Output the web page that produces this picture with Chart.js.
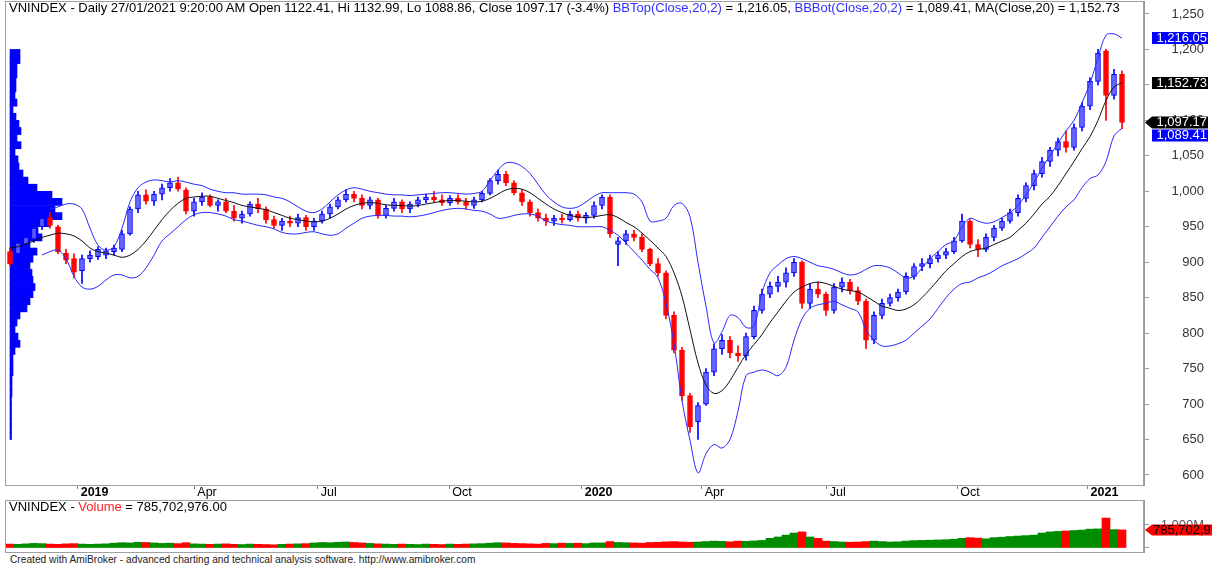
<!DOCTYPE html>
<html>
<head>
<meta charset="utf-8">
<title>VNINDEX - Daily</title>
<script src="https://cdn.jsdelivr.net/npm/chart.js@4.4.1/dist/chart.umd.min.js"></script>
<style>
  html, body { margin: 0; padding: 0; background: #fff; }
  #wrap { position: relative; width: 1212px; height: 567px; overflow: hidden;
          font-family: "Liberation Sans", Arial, sans-serif; }
  canvas { position: absolute; left: 0; }
  #priceChart { top: 0; }
  #volChart   { top: 500px; }
  .txt  { position: absolute; white-space: nowrap; color: #000; }
  #hdr  { left: 9px;  top: 1px;   font-size: 13px; line-height: 13px; }
  #vhdr { left: 9px;  top: 500px; font-size: 13px; line-height: 13px; }
  #foot { left: 10px; top: 554px; font-size: 10.2px; line-height: 11px; color: #222; }
  .blue { color: #3030ff; }
  .red  { color: #ff2020; }
</style>
</head>
<body>
<div id="wrap">
  <canvas id="priceChart" width="1212" height="500"></canvas>
  <canvas id="volChart" width="1212" height="53"></canvas>
  <div class="txt" id="hdr">VNINDEX - Daily 27/01/2021 9:20:00 AM Open 1122.41, Hi 1132.99, Lo 1088.86, Close 1097.17 (-3.4%) <span class="blue">BBTop(Close,20,2)</span> = 1,216.05, <span class="blue">BBBot(Close,20,2)</span> = 1,089.41, MA(Close,20) = 1,152.73</div>
  <div class="txt" id="vhdr">VNINDEX - <span class="red">Volume</span> = 785,702,976.00</div>
  <div class="txt" id="foot">Created with AmiBroker - advanced charting and technical analysis software. http://www.amibroker.com</div>
</div>

<script>
// ─────────────────────────────────────────
//  DATA  (one bar ≈ 4 trading days, Nov 2018 → 27 Jan 2021)
// ─────────────────────────────────────────
const opens = [
  915, 912, 925, 933, 950, 963, 950, 913, 905, 888,
  905, 908, 910, 915, 918, 940, 975, 995, 986, 996,
  1005, 1012, 1002, 972, 985, 992, 980, 985, 972, 962,
  968, 982, 975, 960, 952, 958, 955, 963, 950, 958,
  968, 978, 988, 996, 990, 980, 988, 966, 976, 985,
  975, 982, 988, 992, 988, 984, 990, 985, 980, 988,
  997, 1015, 1024, 1012, 998, 985, 970, 962, 958, 962,
  960, 968, 962, 966, 980, 992, 925, 930, 940, 935,
  918, 898, 885, 825, 776, 712, 675, 700, 745, 778,
  790, 772, 768, 795, 832, 855, 866, 872, 885, 900,
  842, 862, 855, 832, 865, 872, 860, 845, 790, 825,
  842, 850, 858, 880, 894, 898, 905, 910, 915, 930,
  958, 925, 918, 935, 948, 958, 970, 990, 1008, 1025,
  1042, 1058, 1070, 1062, 1090, 1120, 1155, 1198, 1135, 1165,
];
const highs = [
  920, 930, 940, 952, 966, 970, 952, 918, 912, 910,
  916, 922, 920, 924, 945, 978, 1000, 1002, 1000, 1010,
  1018, 1020, 1005, 990, 998, 995, 988, 990, 980, 972,
  985, 990, 978, 965, 962, 965, 968, 966, 962, 972,
  982, 992, 1002, 1000, 995, 992, 990, 980, 990, 988,
  985, 992, 996, 1000, 995, 994, 995, 990, 992, 1000,
  1018, 1030, 1028, 1015, 1002, 988, 975, 968, 966, 968,
  972, 972, 970, 985, 995, 995, 935, 945, 945, 940,
  920, 905, 888, 830, 780, 715, 702, 750, 785, 798,
  795, 782, 800, 838, 862, 872, 880, 892, 905, 902,
  870, 872, 858, 870, 878, 876, 865, 848, 830, 848,
  855, 862, 885, 898, 905, 910, 915, 920, 935, 968,
  960, 932, 940, 952, 962, 975, 995, 1012, 1030, 1048,
  1062, 1075, 1085, 1095, 1125, 1160, 1200, 1200, 1172, 1170,
];
const lows = [
  895, 905, 920, 928, 946, 948, 912, 898, 878, 870,
  900, 904, 905, 910, 915, 938, 970, 982, 980, 988,
  1000, 1000, 968, 965, 980, 978, 972, 970, 958, 955,
  965, 970, 955, 948, 945, 950, 950, 945, 945, 955,
  962, 975, 985, 985, 975, 975, 962, 962, 972, 970,
  970, 978, 984, 985, 980, 980, 982, 975, 976, 985,
  995, 1010, 1008, 995, 980, 965, 958, 952, 952, 955,
  958, 958, 955, 962, 975, 935, 895, 925, 930, 915,
  895, 880, 820, 772, 705, 660, 650, 698, 740, 770,
  765, 760, 762, 792, 828, 850, 858, 865, 880, 835,
  835, 850, 825, 828, 858, 855, 840, 778, 785, 820,
  838, 845, 855, 876, 888, 892, 900, 905, 912, 928,
  920, 908, 915, 930, 945, 955, 965, 985, 1002, 1020,
  1035, 1050, 1055, 1058, 1085, 1115, 1150, 1100, 1130, 1088,
];
const closes = [
  898, 927, 935, 948, 962, 952, 915, 903, 886, 905,
  910, 918, 916, 920, 940, 975, 995, 986, 996, 1005,
  1012, 1003, 972, 985, 992, 980, 985, 972, 962, 968,
  982, 975, 960, 952, 958, 955, 963, 950, 958, 968,
  978, 988, 996, 990, 980, 988, 966, 976, 985, 975,
  982, 988, 992, 988, 984, 990, 985, 980, 988, 997,
  1015, 1024, 1012, 998, 985, 970, 962, 958, 962, 960,
  968, 962, 966, 980, 992, 940, 930, 940, 935, 918,
  898, 885, 825, 776, 712, 668, 698, 745, 778, 790,
  772, 768, 795, 832, 855, 866, 872, 885, 900, 842,
  862, 855, 832, 865, 872, 860, 845, 790, 825, 842,
  850, 858, 880, 894, 898, 905, 910, 915, 930, 958,
  925, 918, 935, 948, 958, 970, 990, 1008, 1025, 1042,
  1058, 1070, 1062, 1090, 1120, 1155, 1195, 1135, 1165, 1097,
];

// indicator lines at every bar
const maLine = [
  920, 922, 926, 930, 935, 938, 941, 940, 937, 930,
  920, 915, 913, 910, 907, 910, 918, 930, 945, 960,
  973, 983, 990, 992, 993, 993, 990, 987, 984, 980,
  978, 976, 974, 970, 966, 962, 960, 958, 957, 958,
  962, 968, 975, 980, 983, 984, 983, 981, 980, 980,
  979, 980, 982, 984, 986, 987, 987, 986, 985, 986,
  990, 996, 1002, 1004, 1003, 998, 990, 982, 975, 970,
  966, 964, 963, 964, 966, 967, 963, 956, 950, 941,
  931, 920, 908, 885, 852, 805, 758, 727, 715, 719,
  733, 752, 770, 784, 798, 815, 830, 845, 858, 865,
  870, 872, 870, 866, 862, 860, 858, 852, 845, 838,
  835, 832, 834, 840, 850, 862, 875, 888, 898, 908,
  915, 918, 920, 925, 930, 935, 945, 955, 968, 982,
  993, 1008, 1025, 1042, 1060, 1077, 1100, 1128, 1147, 1153,
];
const bbTop = [
  null, null, null, null, null, 975, 978, 982, 982, 975,
  948, 924, 917, 922, 948, 985, 1005, 1013, 1016, 1015,
  1013, 1015, 1013, 1010, 1008, 1003, 1000, 998, 998, 996,
  996, 996, 995, 992, 990, 985, 978, 972, 970, 975,
  985, 995, 1002, 1005, 1003, 1000, 998, 996, 995, 995,
  994, 995, 996, 997, 998, 998, 997, 996, 997, 1000,
  1015, 1030, 1040, 1040, 1035, 1025, 1010, 995, 985, 978,
  976, 978, 985, 993, 998, 998, 998, 998, 996, 985,
  958, 958, 962, 980, 983, 964, 900, 838, 786, 802,
  825, 822, 808, 810, 857, 885, 896, 905, 908, 905,
  900, 895, 893, 890, 885, 882, 884, 890, 895, 895,
  892, 885, 878, 880, 892, 905, 915, 925, 930, 950,
  962, 958, 955, 957, 963, 970, 980, 995, 1012, 1033,
  1050, 1068, 1085, 1100, 1125, 1152, 1188, 1220, 1222, 1216,
];
const bbBot = [
  null, null, null, null, 910, 915, 917, 905, 880, 865,
  862, 866, 875, 882, 882, 878, 880, 892, 910, 930,
  940, 950, 960, 967, 970, 970, 968, 965, 960, 958,
  955, 952, 950, 947, 942, 940, 940, 942, 943, 940,
  938, 940, 948, 955, 962, 965, 966, 966, 965, 965,
  964, 965, 967, 970, 973, 975, 976, 975, 973, 972,
  968, 962, 963, 966, 968, 968, 965, 958, 955, 953,
  952, 950, 950, 950, 950, 945, 938, 927, 915, 903,
  890, 878, 842, 785, 705, 649, 603, 630, 643, 638,
  650, 690, 740, 745, 748, 745, 740, 752, 790, 820,
  835, 840, 842, 845, 840, 835, 830, 805, 790, 782,
  782, 785, 790, 800, 810, 820, 835, 850, 862, 870,
  872, 878, 882, 888, 895, 900, 905, 912, 920, 935,
  950, 965, 978, 988, 1005, 1018, 1023, 1042, 1078, 1089,
];

// volume, millions of shares
const volumes = [
  170, 160, 180, 200, 190, 170, 160, 180, 190, 170,
  160, 170, 180, 210, 230, 220, 250, 240, 220, 200,
  210, 190, 230, 180, 170, 160, 170, 180, 160, 150,
  170, 160, 150, 140, 160, 170, 180, 190, 220, 240,
  230, 250, 260, 240, 220, 200, 180, 170, 160, 170,
  160, 150, 170, 160, 150, 170, 160, 170, 180, 190,
  210, 230, 220, 200, 190, 180, 170, 200, 190, 210,
  200, 210, 190, 220, 220, 280, 240, 230, 220, 210,
  240, 250, 270, 280, 260, 250, 260, 280, 300, 290,
  270, 300, 290, 310, 330, 420, 480, 560, 650, 700,
  480, 420, 300, 280, 260, 250, 260, 280, 300, 280,
  260, 270, 300, 320, 330, 340, 350, 360, 380, 420,
  450, 430, 400, 450, 470, 500, 520, 540, 560, 650,
  700, 720, 740, 760, 780, 820, 830, 1300, 800, 786,
];

// volume-at-price profile (left side): price bins and bar lengths
const profilePrices = [
  655, 665, 675, 685, 695, 705, 715, 725, 735, 745, 755,
  765, 775, 785, 795, 805, 815, 825, 835, 845, 855,
  865, 875, 885, 895, 905, 915, 925, 935, 945, 955,
  965, 975, 985, 995, 1005, 1015, 1025, 1035, 1045, 1055,
  1065, 1075, 1085, 1095, 1105, 1115, 1125, 1135, 1145, 1155,
  1165, 1175, 1185, 1195,
];
const profileWidths = [
  1.5, 1.5, 1.5, 1.5, 1.5, 1.5, 2, 2, 2, 3, 3,
  3, 5, 10, 8, 5, 7, 10, 17, 20, 23,
  25, 23, 22, 20, 23, 27, 20, 32, 28, 40,
  52, 45, 52, 42, 27, 18, 13, 9, 8, 5,
  11, 7, 11, 9, 6, 3, 7, 5, 6, 6,
  7, 7, 10, 10,
];

// axes
const xTickPos    = [8.46, 23.04, 38.46, 54.9, 71.46, 86.46, 102.1, 118.4, 134.7];
const xTickLabels = ['2019', 'Apr', 'Jul', 'Oct', '2020', 'Apr', 'Jul', 'Oct', '2021'];
const priceTicks  = [600, 650, 700, 750, 800, 850, 900, 950, 1000, 1050, 1100, 1150, 1200, 1250];
const volTicks    = [0, 1000];

// last values shown in the right margin
const lastLabels = [
  { value: 1216.05, text: '1,216.05', bg: '#0000ff' },
  { value: 1152.73, text: '1,152.73', bg: '#000000' },
  { value: 1097.17, text: '1,097.17', bg: '#000000', arrow: true },
  { value: 1089.41, text: '1,089.41', bg: '#0000ff' },
];
const lastVolume = 785.702976;

// ─────────────────────────────────────────
//  STYLE
// ─────────────────────────────────────────
const FONT      = '"Liberation Sans", Arial, sans-serif';
const UP_LINE   = '#0000ff';
const UP_FILL   = 'rgba(120,120,255,0.75)';
const DOWN      = '#ff0000';
const VOL_UP    = '#008c00';
const FRAME     = '#a0a0a0';
const Y_MIN     = 585.9;
const Y_MAX     = 1268.3;
const X_MIN     = -0.625;
const X_MAX     = 141.75;

const idx  = closes.map((_, i) => i);
const isUp = closes.map((c, i) => c >= opens[i]);

// axis boxes are fixed so the plot area lands where AmiBroker puts it
function fixBox(size) {
  return s => {
    if (s.isHorizontal()) s.height = size; else s.width = size;
    s.paddingTop = 0; s.paddingBottom = 0; s.paddingLeft = 0; s.paddingRight = 0;
  };
}

// ─────────────────────────────────────────
//  PLUGINS
// ─────────────────────────────────────────
const framePlugin = {
  id: 'frame',
  afterDraw(chart) {
    const { ctx, chartArea: a } = chart;
    ctx.save();
    ctx.strokeStyle = FRAME;
    ctx.lineWidth = 1;
    ctx.strokeRect(a.left + 0.5, a.top + 0.5, a.right - a.left - 1, a.bottom - a.top);
    ctx.restore();
  },
};

function tagBox(ctx, xTip, xLeft, xRight, yc, h, bg, arrow) {
  ctx.fillStyle = bg;
  ctx.beginPath();
  if (arrow) {
    ctx.moveTo(xTip, yc);
    ctx.lineTo(xLeft, yc - h / 2);
    ctx.lineTo(xRight, yc - h / 2);
    ctx.lineTo(xRight, yc + h / 2);
    ctx.lineTo(xLeft, yc + h / 2);
  } else {
    ctx.rect(xLeft, yc - h / 2, xRight - xLeft, h);
  }
  ctx.closePath();
  ctx.fill();
}

const priceTagPlugin = {
  id: 'priceTags',
  afterDraw(chart) {
    const { ctx } = chart;
    const y = chart.scales.y;
    const right = chart.chartArea.right;
    let prev = -100;
    ctx.save();
    ctx.font = '13px ' + FONT;
    ctx.textAlign = 'right';
    ctx.textBaseline = 'middle';
    lastLabels
      .map(l => ({ ...l, py: y.getPixelForValue(l.value) }))
      .sort((a, b) => a.py - b.py)
      .forEach(l => {
        const yc = Math.max(l.py, prev + 13);   // keep tags from overlapping
        prev = yc;
        tagBox(ctx, right + 1, right + 8, right + 64, yc, 12, l.bg, l.arrow);
        ctx.fillStyle = '#fff';
        ctx.fillText(l.text, right + 63, yc + 0.5);
      });
    ctx.restore();
  },
};

const volTagPlugin = {
  id: 'volTag',
  afterDraw(chart) {
    const { ctx } = chart;
    const right = chart.chartArea.right;
    const yc = chart.scales.y.getPixelForValue(lastVolume);
    ctx.save();
    tagBox(ctx, right + 1, right + 8, chart.width, yc, 11, '#ff0000', true);
    ctx.font = '13px ' + FONT;
    ctx.textBaseline = 'middle';
    ctx.fillStyle = '#000';
    ctx.fillText('785,702,976.00', right + 9, yc + 0.5);
    ctx.restore();
  },
};

// ─────────────────────────────────────────
//  PRICE CHART
// ─────────────────────────────────────────
const lineStyle = { type: 'line', borderWidth: 1, pointRadius: 0, tension: 0.35, spanGaps: false };

new Chart(document.getElementById('priceChart'), {
  type: 'bar',
  data: {
    datasets: [
      { ...lineStyle, label: 'BBTop', data: idx.map(i => ({ x: i, y: bbTop[i] })), borderColor: '#2828ff', order: 0 },
      { ...lineStyle, label: 'BBBot', data: idx.map(i => ({ x: i, y: bbBot[i] })), borderColor: '#2828ff', order: 0 },
      { ...lineStyle, label: 'MA',    data: idx.map(i => ({ x: i, y: maLine[i] })), borderColor: '#111111', order: 0 },
      {
        label: 'Body',
        data: idx.map(i => ({ x: i, y: [opens[i], closes[i]] })),
        backgroundColor: isUp.map(u => u ? UP_FILL : DOWN),
        borderColor:     isUp.map(u => u ? UP_LINE : DOWN),
        borderWidth: 1,
        borderSkipped: false,
        barThickness: 5,
        minBarLength: 1,
        grouped: false,
        order: 1,
      },
      {
        label: 'Wick',
        data: idx.map(i => ({ x: i, y: [lows[i], highs[i]] })),
        backgroundColor: isUp.map(u => u ? UP_LINE : DOWN),
        barThickness: 1,
        grouped: false,
        order: 2,
      },
      {
        label: 'Profile',
        indexAxis: 'y',
        xAxisID: 'xp',
        yAxisID: 'yp',
        data: profilePrices.map((p, i) => ({ x: profileWidths[i], y: p })),
        backgroundColor: '#0000ff',
        barPercentage: 1,
        categoryPercentage: 1,
        grouped: false,
        order: 3,
      },
    ],
  },
  options: {
    responsive: false,
    animation: false,
    layout: { padding: { top: 1, left: 5, right: 8, bottom: 0 } },
    plugins: { legend: { display: false }, tooltip: { enabled: false } },
    scales: {
      x: {
        type: 'linear', min: X_MIN, max: X_MAX, offset: false,
        afterBuildTicks: s => { s.ticks = xTickPos.map(v => ({ value: v })); },
        afterFit: fixBox(15),
        grid: { drawOnChartArea: false, offset: false, tickLength: 4, color: '#808080' },
        border: { color: FRAME },
        ticks: {
          autoSkip: false, maxRotation: 0, align: 'start', labelOffset: 3, padding: -4,
          color: '#000',
          font: c => ({ family: FONT, size: 12.5, lineHeight: 1.2,
                        weight: /^\d/.test(xTickLabels[c.index] || '') ? 'bold' : 'normal' }),
          callback: (v, i) => xTickLabels[i],
        },
      },
      y: {
        type: 'linear', position: 'right', min: Y_MIN, max: Y_MAX,
        afterBuildTicks: s => { s.ticks = priceTicks.map(v => ({ value: v })); },
        afterFit: fixBox(60),
        grid: { drawOnChartArea: false, tickLength: 5, color: '#999' },
        border: { color: '#999' },
        ticks: {
          crossAlign: 'far', color: '#333',
          font: { family: FONT, size: 13 },
          callback: v => v.toLocaleString('en-US'),
        },
      },
      // hidden axes for the volume-at-price bars
      xp: { type: 'linear', display: false, offset: false, min: -5, max: 1134 },
      yp: { type: 'linear', display: false, offset: false, min: Y_MIN, max: Y_MAX },
    },
  },
  plugins: [framePlugin, priceTagPlugin],
});

// ─────────────────────────────────────────
//  VOLUME CHART
// ─────────────────────────────────────────
new Chart(document.getElementById('volChart'), {
  type: 'bar',
  data: {
    datasets: [{
      label: 'Volume',
      data: idx.map(i => ({ x: i, y: volumes[i] })),
      backgroundColor: isUp.map(u => u ? VOL_UP : DOWN),
      barPercentage: 1,
      categoryPercentage: 1,
    }],
  },
  options: {
    responsive: false,
    animation: false,
    layout: { padding: { top: 0, left: 5, right: 8, bottom: 1 } },
    plugins: { legend: { display: false }, tooltip: { enabled: false } },
    scales: {
      x: { type: 'linear', display: false, min: X_MIN, max: X_MAX, offset: false },
      y: {
        type: 'linear', position: 'right', min: -174, max: 2087,
        afterBuildTicks: s => { s.ticks = volTicks.map(v => ({ value: v })); },
        afterFit: fixBox(60),
        grid: { drawOnChartArea: false, tickLength: 5, color: '#999' },
        border: { color: '#999' },
        ticks: {
          crossAlign: 'far', color: '#555',
          font: { family: FONT, size: 13 },
          callback: v => v === 1000 ? '1,000M' : '',
        },
      },
    },
  },
  plugins: [framePlugin, volTagPlugin],
});
</script>
</body>
</html>
